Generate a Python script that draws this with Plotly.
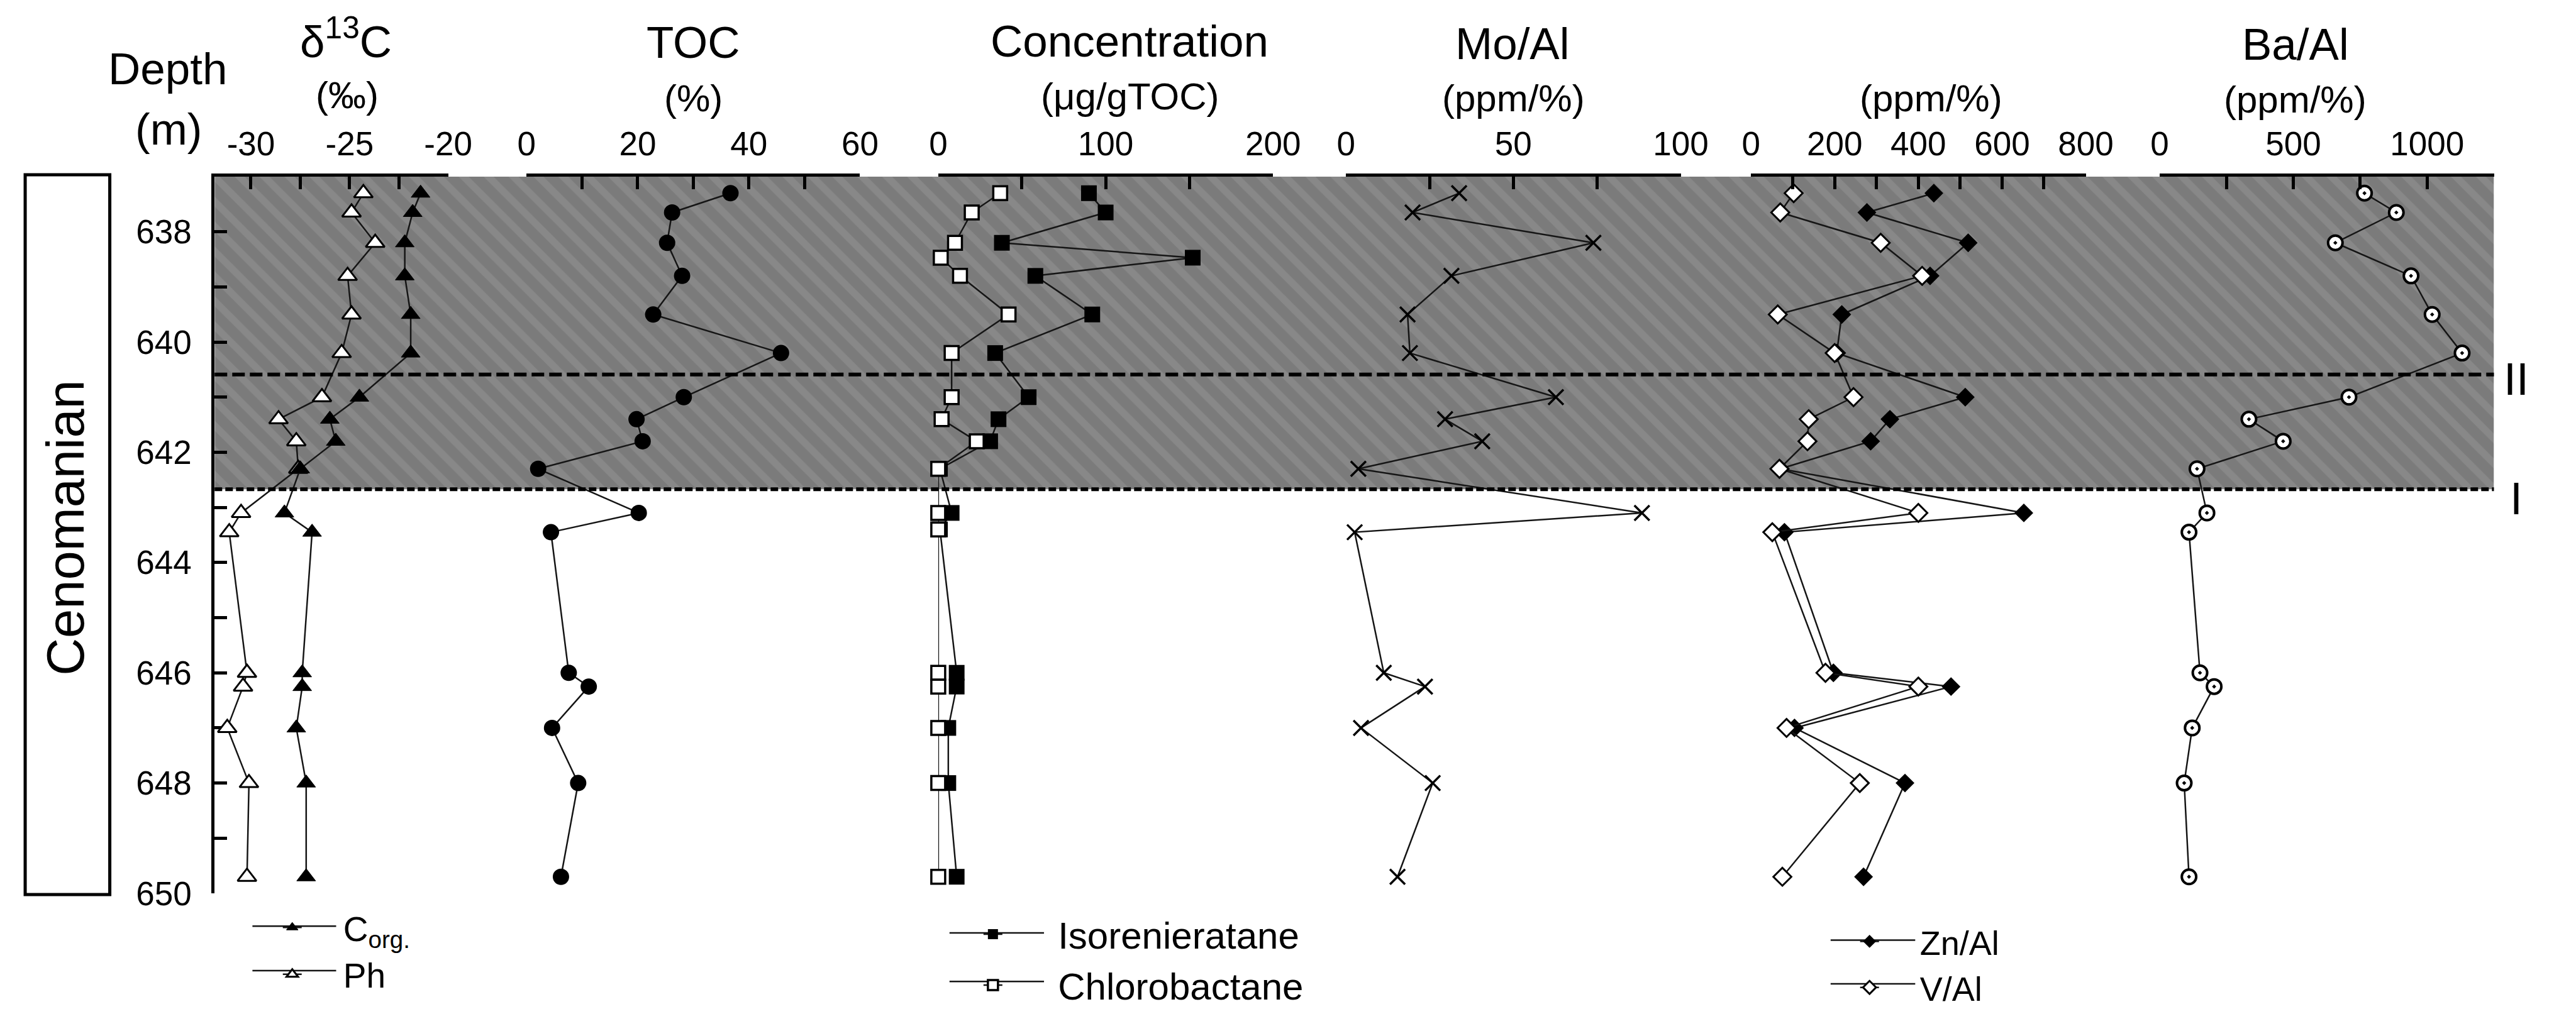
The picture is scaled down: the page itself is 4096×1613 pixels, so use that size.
import plotly.graph_objects as go

W, H, S = 4096, 1613, 0.726
FONT = "Liberation Sans, Arial, Helvetica, sans-serif"
NB = "\u00a0"

# ---------------- data ----------------
depth = [637.3, 637.65, 638.2, 638.8, 639.5, 640.2, 641.0, 641.4, 641.8, 642.3,
         643.1, 643.45, 646.0, 646.25, 647.0, 648.0, 649.7]
depth_bio = [637.3, 637.65, 638.2, 638.47, 638.8, 639.5, 640.2, 641.0, 641.4, 641.8,
             642.3, 643.1, 643.4, 646.0, 646.25, 647.0, 648.0, 649.7]

d13c_corg = [-21.4, -21.8, -22.2, -22.2, -21.9, -21.9, -24.5, -26.0, -25.7, -27.5,
             -28.3, -26.9, -27.4, -27.4, -27.7, -27.2, -27.2]
d13c_ph = [-24.3, -24.9, -23.7, -25.1, -24.9, -25.4, -26.4, -28.6, -27.7, -27.6,
           -30.5, -31.1, -30.2, -30.4, -31.2, -30.1, -30.2]
toc = [36.7, 26.2, 25.3, 28.0, 22.8, 45.8, 28.3, 19.8, 20.9, 2.1,
       20.2, 4.4, 7.6, 11.2, 4.6, 9.3, 6.2]
isorenieratane = [90, 100, 38, 152, 58, 92, 34, 54, 36, 31,
                  1, 8, 1, 11, 11, 6, 6, 11]
chlorobactane = [37, 20, 10, 1.5, 13, 42, 8, 8, 2, 23,
                 0, 0, 0, 0, 0, 0, 0, 0]
mo_al = [33.8, 19.9, 73.9, 31.5, 18.4, 19.1, 62.7, 29.6, 40.7, 3.7,
         88.4, 2.6, 11.3, 23.6, 4.5, 25.9, 15.4]
zn_al = [437, 277, 519, 428, 217, 205, 512, 332, 286, 70,
         652, 80, 197, 478, 104, 368, 269]
v_al = [102, 70, 310, 409, 64, 200, 245, 138, 135, 68,
        400, 51, 178, 400, 85, 260, 75]
ba_al = [766, 885, 657, 940, 1019, 1131, 708, 334, 462, 140,
         177, 110, 151, 204, 122, 92, 110]

zone_bounds = [637.0, 640.59, 642.67]      # top of shaded interval, boundary II, boundary I
depth_range = [650, 637]
depth_ticks = list(range(637, 651))
depth_ticktext = [str(d) if d % 2 == 0 and d > 637 else "" for d in depth_ticks]

axes_spec = [
    dict(range=[-31.84, -20], tickvals=[-30, -27.5, -25, -22.5, -20], ticktext=["-30", "", "-25", "", "-20"]),
    dict(range=[0, 60], tickvals=[0, 10, 20, 30, 40, 50, 60], ticktext=["0", "", "20", "", "40", "", "60"]),
    dict(range=[0, 200], tickvals=[0, 50, 100, 150, 200], ticktext=["0", "", "100", "", "200"]),
    dict(range=[0, 100], tickvals=[0, 25, 50, 75, 100], ticktext=["0", "", "50", "", "100"]),
    dict(range=[0, 800], tickvals=list(range(0, 801, 100)), ticktext=["0", "", "200", "", "400", "", "600", "", "800"]),
    dict(range=[0, 1250], tickvals=[0, 250, 500, 750, 1000, 1250], ticktext=["0", "", "500", "", "1000", ""]),
]
# panel extents in reference pixels
panel_px = [(456, 975), (1149, 1890), (2064, 2808), (2970, 3714), (3870, 4614), (4778, 5521)]

# ---------------- geometry helpers ----------------
TOP_OUT = 281
BOT_MARGIN = 179
PLOT_H = H - TOP_OUT - BOT_MARGIN


def px(xf):
    return xf * S / W


def py(yf):
    return (H - BOT_MARGIN - yf * S) / PLOT_H


def py_out(yo):
    return (H - BOT_MARGIN - yo) / PLOT_H


fig = go.Figure()

# shaded interval (background subplot x / y)
bg_x = [0, 1]
fig.add_trace(go.Scatter(
    x=[bg_x[0], bg_x[1], bg_x[1], bg_x[0], bg_x[0]],
    y=[zone_bounds[0], zone_bounds[0], zone_bounds[2], zone_bounds[2], zone_bounds[0]],
    xaxis="x", yaxis="y", mode="lines", line=dict(width=0),
    fill="toself", fillcolor="#808080",
    fillpattern=dict(shape="\\", bgcolor="#7b7b7b", fgcolor="#969696", size=28, solidity=0.4),
    hoverinfo="skip", showlegend=False))

LINE = dict(color="#151515", width=2.5)

# delta13C
fig.add_trace(go.Scatter(x=d13c_ph, y=depth, xaxis="x2", yaxis="y", mode="lines+markers",
                         name=NB * 4 + "Ph", legend="legend", legendrank=2, line=LINE, cliponaxis=False,
                         marker=dict(symbol="triangle-up", size=26, color="white",
                                     line=dict(color="black", width=3))))
fig.add_trace(go.Scatter(x=d13c_corg, y=depth, xaxis="x2", yaxis="y", mode="lines+markers",
                         name=NB * 4 + "C<sub>org.</sub>", legend="legend", legendrank=1, line=LINE,
                         cliponaxis=False,
                         marker=dict(symbol="triangle-up", size=26, color="black",
                                     line=dict(color="black", width=1))))
# TOC
fig.add_trace(go.Scatter(x=toc, y=depth, xaxis="x3", yaxis="y", mode="lines+markers",
                         name="TOC", showlegend=False, line=LINE, cliponaxis=False,
                         marker=dict(symbol="circle", size=26, color="black")))
# Concentration
fig.add_trace(go.Scatter(x=isorenieratane, y=depth_bio, xaxis="x4", yaxis="y", mode="lines+markers",
                         name=NB * 5 + "Isorenieratane", legend="legend2", line=LINE, cliponaxis=False,
                         marker=dict(symbol="square", size=25, color="black")))
fig.add_trace(go.Scatter(x=chlorobactane, y=depth_bio, xaxis="x4", yaxis="y", mode="lines+markers",
                         name=NB * 5 + "Chlorobactane", legend="legend2", line=LINE, cliponaxis=False,
                         marker=dict(symbol="square", size=22, color="white",
                                     line=dict(color="black", width=3.5))))
# Mo/Al
fig.add_trace(go.Scatter(x=mo_al, y=depth, xaxis="x5", yaxis="y", mode="lines+markers",
                         name="Mo/Al", showlegend=False, line=LINE, cliponaxis=False,
                         marker=dict(symbol="x-thin", size=24, color="black",
                                     line=dict(color="black", width=3.5))))
# Zn/Al, V/Al
fig.add_trace(go.Scatter(x=zn_al, y=depth, xaxis="x6", yaxis="y", mode="lines+markers",
                         name=NB * 4 + "Zn/Al", legend="legend3", line=LINE, cliponaxis=False,
                         marker=dict(symbol="diamond", size=23, color="black")))
fig.add_trace(go.Scatter(x=v_al, y=depth, xaxis="x6", yaxis="y", mode="lines+markers",
                         name=NB * 4 + "V/Al", legend="legend3", line=LINE, cliponaxis=False,
                         marker=dict(symbol="diamond", size=22, color="white",
                                     line=dict(color="black", width=3))))
# Ba/Al
fig.add_trace(go.Scatter(x=ba_al, y=depth, xaxis="x7", yaxis="y", mode="lines+markers",
                         name="Ba/Al", showlegend=False, line=LINE, cliponaxis=False,
                         marker=dict(symbol="circle-dot", size=23, color="white",
                                     line=dict(color="black", width=4))))

layout = dict(
    width=W, height=H,
    margin=dict(l=0, r=0, t=TOP_OUT, b=BOT_MARGIN, pad=0),
    paper_bgcolor="white", plot_bgcolor="rgba(0,0,0,0)",
    font=dict(family=FONT, color="black", size=53),
    xaxis=dict(domain=[px(panel_px[0][0]), px(panel_px[5][1])], range=bg_x, visible=False, fixedrange=True),
    yaxis=dict(domain=[0, 1], range=depth_range, anchor="x", showline=True, linewidth=5, linecolor="black",
               ticks="inside", ticklen=20, tickwidth=5, tickcolor="black",
               tickvals=depth_ticks, ticktext=depth_ticktext, tickfont=dict(size=53, family=FONT),
               ticklabelstandoff=21, showgrid=False, zeroline=False),
)
for i, (spec, (a, b)) in enumerate(zip(axes_spec, panel_px)):
    layout["xaxis%d" % (i + 2)] = dict(
        domain=[px(a), px(b)], range=spec["range"], anchor="y", side="top",
        showline=True, linewidth=5, linecolor="black",
        ticks="inside", ticklen=20, tickwidth=5, tickcolor="black",
        tickvals=spec["tickvals"], ticktext=spec["ticktext"],
        tickfont=dict(size=53, family=FONT), ticklabelstandoff=8,
        showgrid=False, zeroline=False)

# legend geometry (reference pixels): line start, marker x, line end, row1 y, row2 y, font size
legend_geo = [
    ("legend", 540, 635, 726, 2048, 2145, 55),
    ("legend2", 2089, 2192, 2299, 2063, 2172, 60),
    ("legend3", 4047, 4140, 4235, 2079, 2182, 54),
]
leg_common = dict(bgcolor="rgba(0,0,0,0)", borderwidth=0, xanchor="left", yanchor="top",
                  orientation="v", itemsizing="trace", tracegroupgap=0)
shapes = []
for name, x0, xm, x1, r1, r2, fs in legend_geo:
    row1_out = r1 * S
    top_out = row1_out - 5 - 0.65 * fs
    layout[name] = dict(x=(xm * S - 25) / W, y=py_out(top_out), font=dict(size=fs, family=FONT), **leg_common)
    for k in range(2):
        yo = row1_out + k * 1.3 * fs
        shapes.append(dict(type="line", xref="paper", yref="paper", x0=px(x0), x1=px(x1),
                           y0=py_out(yo), y1=py_out(yo), line=dict(color="#151515", width=2.5)))

fig.update_layout(**layout)


def ann(text, xf, yf, size, **kw):
    d = dict(text=text, x=px(xf), y=py(yf), xref="paper", yref="paper", showarrow=False,
             font=dict(size=size, family=FONT, color="black"), xanchor="center", yanchor="middle")
    d.update(kw)
    return d


TS, US = 71, 60
annotations = [
    ann("Depth", 352, 148, TS), ann("(m)", 354, 282, TS),
    ann("δ<sup>13</sup>C", 747, 80, TS), ann("(‰)", 750, 207, US),
    ann("TOC", 1520, 90, TS), ann("(%)", 1520, 213, US),
    ann("Concentration", 2489, 87, TS), ann("(μg/gTOC)", 2490, 209, US),
    ann("Mo/Al", 3340, 92, TS), ann("(ppm/%)", 3342, 214, US),
    ann("(ppm/%)", 4270, 214, US),
    ann("Ba/Al", 5080, 94, TS), ann("(ppm/%)", 5080, 217, US),
    ann("Cenomanian", 125, 1165, 83, textangle=-90),
    ann("II", 5571, 836, 72), ann("I", 5571, 1100, 72),
]
fig.update_layout(annotations=annotations)

shapes += [
    dict(type="line", xref="paper", yref="y", x0=px(panel_px[0][0]), x1=px(panel_px[5][1]),
         y0=zone_bounds[1], y1=zone_bounds[1], line=dict(color="black", width=6, dash="20px,8px")),
    dict(type="line", xref="paper", yref="y", x0=px(panel_px[0][0]), x1=px(panel_px[5][1]),
         y0=zone_bounds[2], y1=zone_bounds[2], line=dict(color="black", width=6, dash="12px,5px")),
    dict(type="rect", xref="paper", yref="paper", x0=px(35), x1=px(223), y0=py(1978), y1=py(383),
         line=dict(color="black", width=5), fillcolor="rgba(0,0,0,0)"),
]
fig.update_layout(shapes=shapes)

fig.write_html("out.html")
